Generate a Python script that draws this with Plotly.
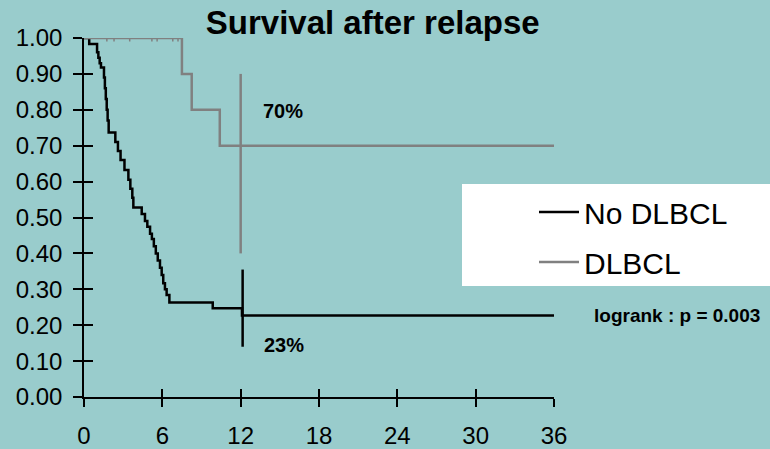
import plotly.graph_objects as go

# ---- data ----
x_ticks = [0, 6, 12, 18, 24, 30, 36]
y_ticks = [0.0, 0.1, 0.2, 0.3, 0.4, 0.5, 0.6, 0.7, 0.8, 0.9, 1.0]

no_dlbcl_t = [0, 0.4, 1.0, 1.1, 1.2, 1.3, 1.53, 1.6, 1.67, 1.74, 1.81, 1.89,
              2.4, 2.6, 2.8, 3.1, 3.4, 3.55, 3.7, 3.78, 4.42, 4.67, 4.85,
              5.06, 5.2, 5.35, 5.5, 5.65, 5.82, 5.95, 6.07, 6.2, 6.33, 6.54,
              9.86, 12.1, 36]
no_dlbcl_s = [1.0, 0.983, 0.96, 0.945, 0.93, 0.918, 0.89, 0.86, 0.83, 0.80,
              0.77, 0.737, 0.71, 0.685, 0.66, 0.632, 0.605, 0.58, 0.555, 0.528,
              0.51, 0.49, 0.474, 0.455, 0.44, 0.42, 0.40, 0.38, 0.36, 0.34,
              0.317, 0.30, 0.284, 0.263, 0.247, 0.227, 0.227]

dlbcl_t = [0, 7.5, 8.25, 10.4, 36]
dlbcl_s = [1.0, 0.9, 0.8, 0.7, 0.7]
dlbcl_censor_t = [1.75, 2.3, 3.5, 5.2, 5.6, 6.8, 7.2]
dlbcl_censor_s = [1.0, 1.0, 1.0, 1.0, 1.0, 1.0, 1.0]

# 12-month markers
dlbcl_mark_t = [12.0, 12.0]
dlbcl_mark_s = [0.40, 0.90]
no_dlbcl_mark_t = [12.15, 12.15]
no_dlbcl_mark_s = [0.14, 0.355]

pct_labels = ["70%", "23%"]
pct_t = [15.25, 15.3]
pct_s = [0.797, 0.145]
logrank_text = "logrank : p = 0.003"

BG = "#99CCCC"
GRAY = "#808080"
FONT = "Arial, Liberation Sans, sans-serif"

fig = go.Figure()
fig.add_trace(go.Scatter(x=no_dlbcl_t, y=no_dlbcl_s, mode="lines", line_shape="hv",
                         line=dict(color="black", width=2.5), name="No DLBCL",
                         legendgroup="a"))
fig.add_trace(go.Scatter(x=dlbcl_t, y=dlbcl_s, mode="lines", line_shape="hv",
                         line=dict(color=GRAY, width=2.5), name="DLBCL",
                         legendgroup="b"))
fig.add_trace(go.Scatter(x=dlbcl_censor_t, y=dlbcl_censor_s, mode="markers",
                         marker=dict(symbol="line-ns", size=5,
                                     line=dict(color=GRAY, width=1.5)),
                         showlegend=False))
fig.add_trace(go.Scatter(x=dlbcl_mark_t, y=dlbcl_mark_s, mode="lines",
                         line=dict(color=GRAY, width=2.5), showlegend=False))
fig.add_trace(go.Scatter(x=no_dlbcl_mark_t, y=no_dlbcl_mark_s, mode="lines",
                         line=dict(color="black", width=2.5), showlegend=False))
# dummy trace for overlay axes (inner halves of crossing ticks)
fig.add_trace(go.Scatter(x=[None], y=[None], xaxis="x2", yaxis="y2",
                         showlegend=False, hoverinfo="skip"))

for txt, t, s in zip(pct_labels, pct_t, pct_s):
    fig.add_annotation(x=t, y=s, xref="x", yref="y", text=txt, showarrow=False,
                       font=dict(size=20, family=FONT, color="black", weight="bold"),
                       xanchor="center", yanchor="middle")
fig.add_annotation(x=(676.5 - 84) / 470, y=(397 - 315) / 359, xref="paper", yref="paper",
                   text=logrank_text, showarrow=False, xanchor="center", yanchor="middle",
                   font=dict(size=19, family=FONT, color="black", weight="bold"))

# white legend panel
fig.add_shape(type="rect", xref="paper", yref="paper",
              x0=(462 - 84) / 470, x1=(780 - 84) / 470,
              y0=(397 - 286) / 359, y1=(397 - 184) / 359,
              fillcolor="white", line=dict(width=0), layer="above")

axis_common = dict(showgrid=False, zeroline=False, tickcolor="black", tickwidth=1.5,
                   automargin=False)
fig.update_layout(
    width=770, height=449,
    margin=dict(l=84, r=216, t=38, b=52, pad=0, autoexpand=False),
    paper_bgcolor=BG, plot_bgcolor=BG,
    font=dict(family=FONT, color="black"),
    title=dict(text="Survival after relapse", x=372.7 / 770, xanchor="center",
               xref="container", yref="container", y=1 - 22 / 449, yanchor="middle",
               font=dict(size=33, family=FONT, color="black", weight="bold")),
    xaxis=dict(range=[0, 36], tickvals=x_ticks, ticks="outside", ticklen=8,
               showline=True, linecolor="black", linewidth=1.5,
               tickfont=dict(size=24, family=FONT, color="black"),
               ticklabelstandoff=8, **axis_common),
    yaxis=dict(range=[0, 1], tickvals=y_ticks, tickformat=".2f", ticks="outside",
               ticklen=9, showline=True, linecolor="black", linewidth=1.5,
               tickfont=dict(size=24, family=FONT, color="black"),
               ticklabelstandoff=6, **axis_common),
    xaxis2=dict(range=[0, 36], tickvals=x_ticks, ticks="inside", ticklen=8,
                overlaying="x", anchor="y2", side="bottom", showticklabels=False,
                showline=False, **axis_common),
    yaxis2=dict(range=[0, 1], tickvals=y_ticks, ticks="inside", ticklen=9,
                overlaying="y", anchor="x2", side="left", showticklabels=False,
                showline=False, **axis_common),
    legend=dict(x=(534 - 84) / 470, y=(397 - 186) / 359, xanchor="left", yanchor="top",
                bgcolor="rgba(0,0,0,0)", borderwidth=0, traceorder="grouped",
                tracegroupgap=8, font=dict(size=30, family=FONT, color="black"),
                itemwidth=40),
    showlegend=True,
)

fig.write_html("out.html",
               config={"displayModeBar": False},
               post_script="document.body.style.margin='0';"
                           "document.body.style.overflow='hidden';")
